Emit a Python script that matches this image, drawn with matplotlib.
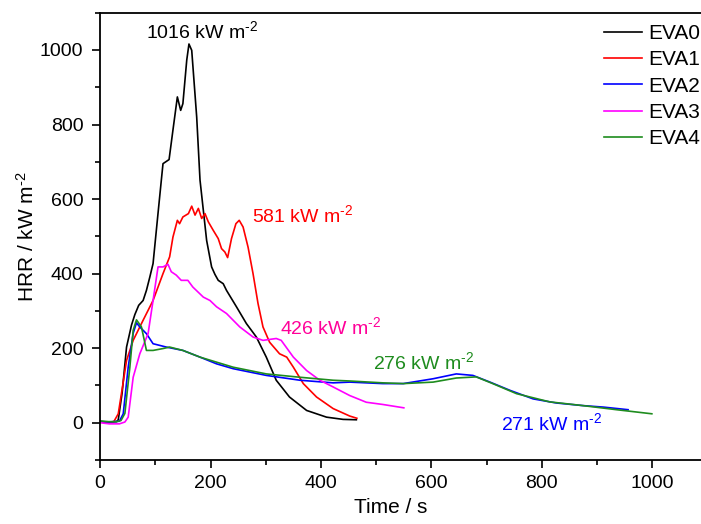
import matplotlib
matplotlib.use("Agg")
import matplotlib.pyplot as plt
from matplotlib.ticker import MultipleLocator

plt.rcParams['font.family'] = ['Liberation Sans', 'DejaVu Sans']
plt.rcParams['mathtext.fontset'] = 'custom'
plt.rcParams['mathtext.rm'] = 'Liberation Sans'
plt.rcParams['mathtext.it'] = 'Liberation Sans:italic'
plt.rcParams['mathtext.default'] = 'regular'

series_names = ["EVA0", "EVA1", "EVA2", "EVA3", "EVA4"]
series_colors = ["#000000", "#FF0000", "#0000FF", "#FF00FF", "#1E8C1E"]

t_eva0 = [0, 15, 30, 33, 40, 48, 57, 63, 70, 78, 84, 90, 96, 105, 111, 114, 125, 132, 140, 146, 150, 157, 161, 166, 175, 181, 187, 193, 202, 208, 214, 223, 229, 247, 265, 283, 295, 301, 319, 343, 374, 410, 440, 464]
v_eva0 = [3, 2, 3, 8, 80, 203, 262, 290, 315, 328, 355, 390, 427, 562, 651, 695, 706, 785, 874, 838, 856, 973, 1016, 999, 820, 651, 570, 489, 418, 398, 382, 373, 355, 311, 266, 230, 194, 176, 114, 69, 33, 15, 9, 8]

t_eva1 = [0, 15, 25, 33, 40, 48, 60, 78, 96, 114, 126, 132, 140, 144, 150, 160, 166, 172, 178, 184, 190, 196, 205, 214, 220, 226, 231, 238, 246, 252, 259, 268, 277, 286, 295, 307, 325, 338, 350, 368, 392, 422, 452, 465]
v_eva1 = [2, 1, 3, 24, 90, 167, 221, 275, 328, 400, 445, 498, 543, 534, 552, 561, 581, 557, 575, 548, 561, 539, 516, 494, 467, 458, 443, 494, 534, 543, 525, 471, 400, 320, 257, 216, 185, 176, 149, 105, 69, 38, 18, 12]

t_eva2 = [0, 15, 35, 42, 51, 60, 66, 72, 84, 96, 120, 150, 181, 211, 241, 301, 362, 422, 452, 512, 549, 603, 645, 675, 706, 742, 784, 826, 874, 911, 956]
v_eva2 = [3, 2, 4, 24, 149, 240, 268, 257, 239, 212, 203, 194, 176, 158, 145, 127, 114, 107, 109, 105, 105, 118, 131, 127, 109, 87, 64, 53, 46, 42, 35]

t_eva3 = [0, 17, 35, 45, 51, 60, 72, 87, 96, 105, 114, 123, 129, 138, 147, 159, 168, 187, 199, 211, 229, 253, 277, 295, 319, 328, 350, 374, 398, 422, 452, 482, 512, 550]
v_eva3 = [0, -3, -3, 2, 15, 122, 185, 239, 328, 418, 418, 425, 405, 396, 382, 382, 364, 337, 328, 311, 293, 257, 230, 221, 226, 221, 176, 140, 114, 96, 73, 55, 49, 40]

t_eva4 = [0, 15, 30, 38, 45, 54, 60, 66, 75, 84, 96, 114, 126, 150, 181, 241, 301, 362, 422, 452, 512, 549, 603, 645, 681, 711, 754, 814, 874, 935, 999]
v_eva4 = [5, 3, 3, 6, 25, 149, 248, 276, 257, 194, 194, 199, 203, 194, 176, 149, 131, 122, 114, 112, 107, 105, 109, 120, 123, 105, 78, 56, 46, 35, 24]

x_ticks = [0, 200, 400, 600, 800, 1000]
y_ticks = [0, 200, 400, 600, 800, 1000]

unit = r"kW m$^{\text{-}2}$"
annotation_texts = ["1016 " + unit, "581 " + unit, "426 " + unit, "276 " + unit, "271 " + unit]
annot_pos = [(185, 1050, 'center'), (275, 556, 'left'), (325, 256, 'left'),
             (494, 162, 'left'), (726, -2, 'left')]
annot_colors = ["#000000", "#FF0000", "#FF0099", "#1E8C1E", "#0000FF"]

fig = plt.figure(figsize=(7.01, 5.24), dpi=100)
ax = fig.add_axes([0.1427, 0.1221, 0.8573, 0.8537])

all_t = [t_eva0, t_eva1, t_eva2, t_eva3, t_eva4]
all_v = [v_eva0, v_eva1, v_eva2, v_eva3, v_eva4]
for name, col, t, v in zip(series_names, series_colors, all_t, all_v):
    ax.plot(t, v, color=col, lw=1.2, label=name)

ax.set_xlim(0, 1088)
ax.set_ylim(-100, 1100)
ax.set_xticks(x_ticks)
ax.set_yticks(y_ticks)
ax.xaxis.set_minor_locator(MultipleLocator(100))
ax.yaxis.set_minor_locator(MultipleLocator(100))
ax.tick_params(which='major', direction='out', length=6, width=1.2, labelsize=14)
ax.tick_params(axis='x', which='major', pad=5)
ax.tick_params(axis='y', which='major', pad=6)
ax.tick_params(which='minor', direction='out', length=3.8, width=1.2)
for s in ['left', 'bottom', 'top']:
    ax.spines[s].set_linewidth(1.3)
ax.spines['right'].set_visible(False)

ax.set_xlabel("Time / s", fontsize=15)
ax.xaxis.set_label_coords(0.483, -0.085)
ax.set_ylabel("HRR / " + unit, fontsize=15)
ax.yaxis.set_label_coords(-0.103, 0.5)

for txt, (x, y, ha), c in zip(annotation_texts, annot_pos, annot_colors):
    ax.text(x, y, txt, color=c, fontsize=14, ha=ha, va='center')

leg = ax.legend(loc='upper right', bbox_to_anchor=(1.017, 1.0), frameon=False, fontsize=15,
                handlelength=1.8, handletextpad=0.3, labelspacing=0.35, borderaxespad=0.15)

fig.savefig("out.png", dpi=100)
